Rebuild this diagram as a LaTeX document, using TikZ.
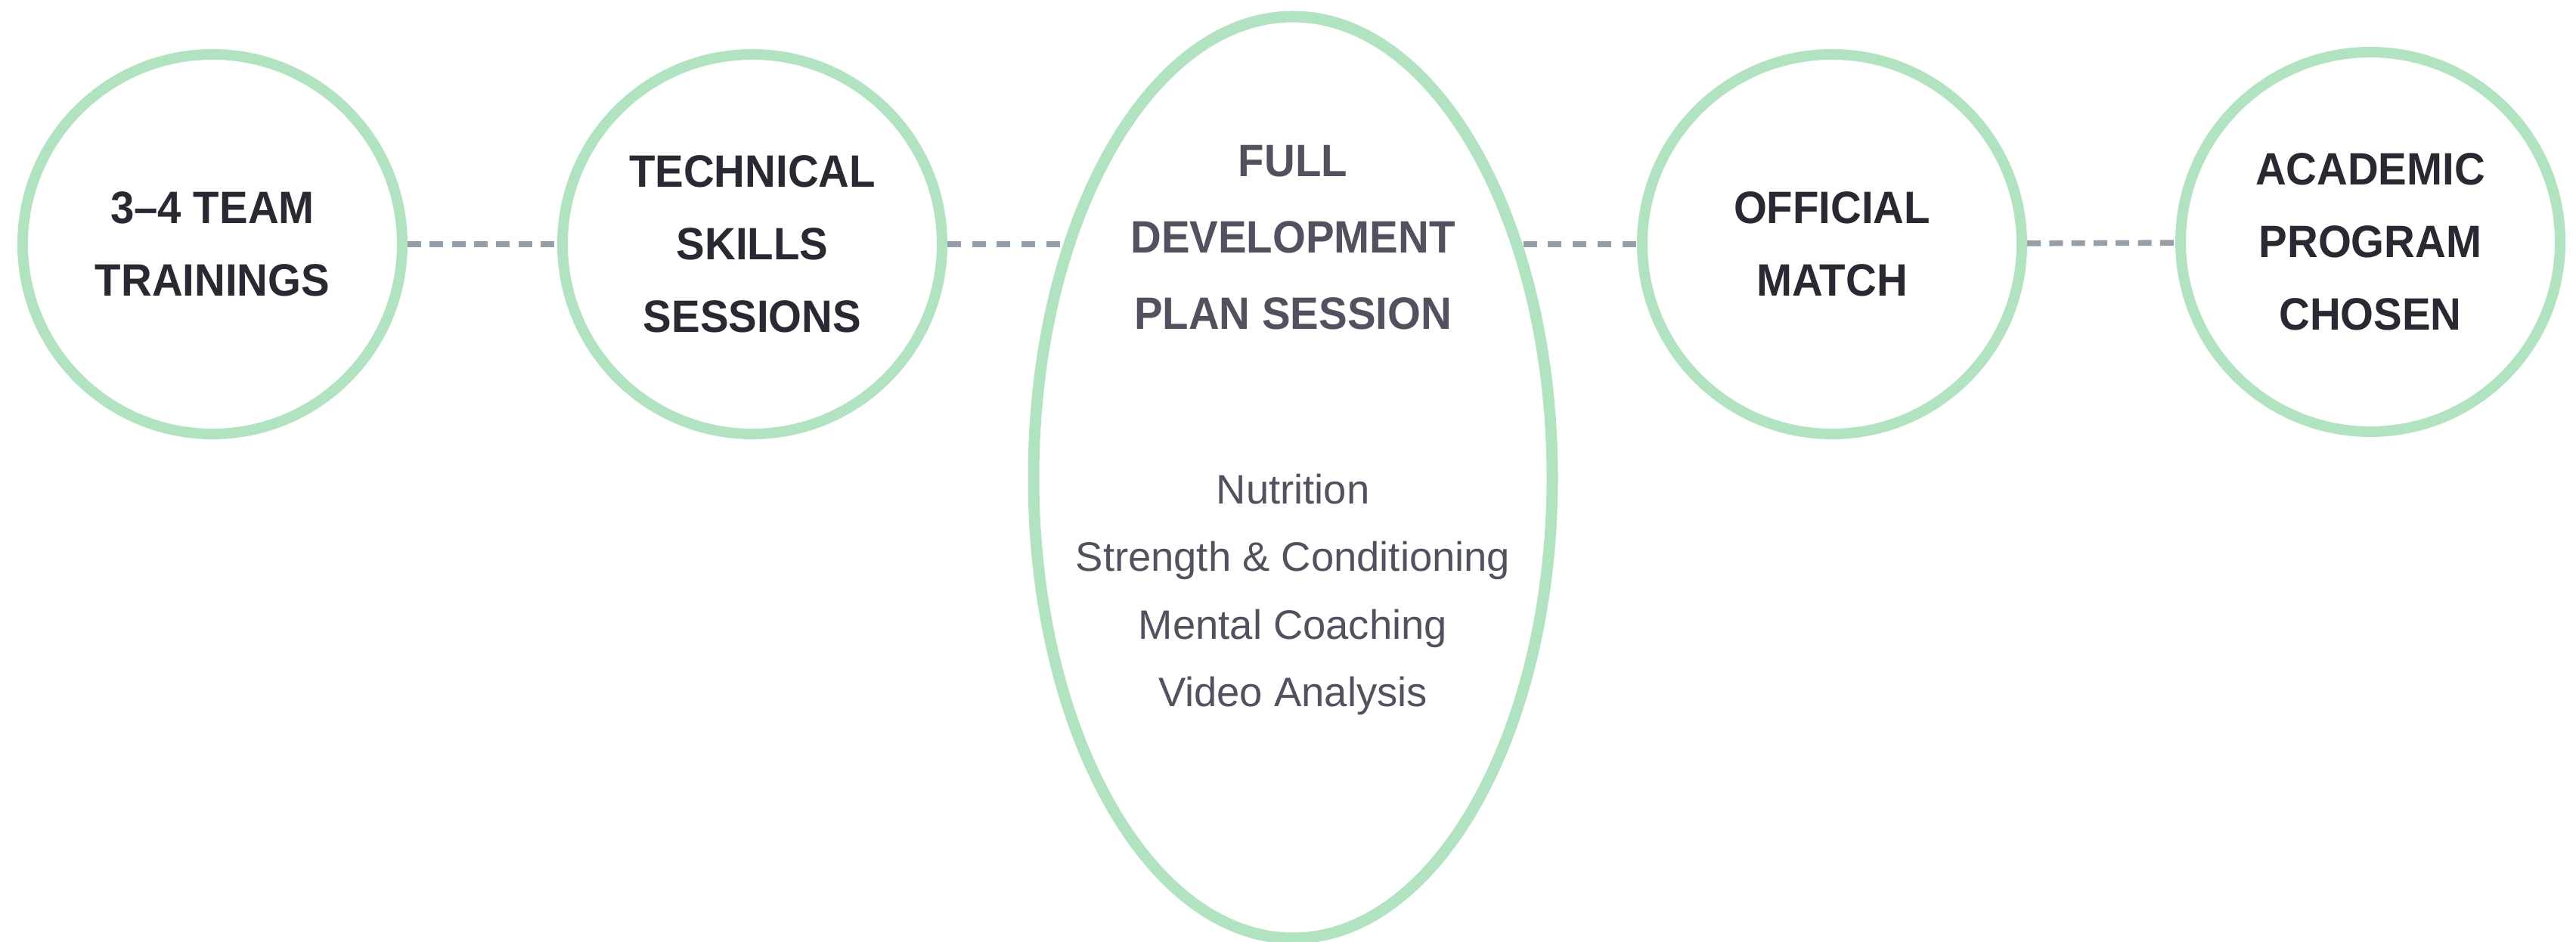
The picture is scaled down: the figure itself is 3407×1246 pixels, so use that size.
\documentclass[tikz,border=0pt]{standalone}
\usepackage{fontspec}
\setmainfont{Liberation Sans}
\newfontfamily\headfont[FakeStretch=0.94]{Liberation Sans}
\usetikzlibrary{shapes.geometric}
\definecolor{ringgreen}{HTML}{B1E3C0}
\definecolor{dashgray}{HTML}{959FAA}
\definecolor{inkdark}{HTML}{2A2933}
\definecolor{inkmid}{HTML}{52515F}
\begin{document}
\begin{tikzpicture}[x=1pt,y=1pt,
  ring/.style={circle, draw=ringgreen, line width=14pt, minimum size=502pt,
    inner sep=0pt, text=inkdark, align=center,
    font=\headfont\bfseries\fontsize{60}{96}\selectfont},
  bigring/.style={ellipse, draw=ringgreen, line width=15pt, minimum width=686pt,
    minimum height=1219pt, inner sep=0pt},
  bigtitle/.style={text=inkmid, align=center, inner sep=0pt,
    font=\headfont\bfseries\fontsize{60}{101}\selectfont},
  itemlist/.style={text=inkmid, align=center, inner sep=0pt,
    font=\fontsize{54.4}{89.5}\selectfont},
  conn/.style={draw=dashgray, line width=7.5pt, dash pattern=on 18pt off 11.3pt},
  connwide/.style={draw=dashgray, line width=7.5pt, dash pattern=on 18pt off 14.7pt}
]
\fill[white] (0,0) rectangle (3407,1246);
\useasboundingbox (0,0) rectangle (3407,1246);

\node[ring] (c1) at (281,923) {3–4 TEAM\\TRAININGS};
\node[ring] (c2) at (995,923) {TECHNICAL\\SKILLS\\SESSIONS};
\node[bigring] (ell) at (1710,614.5) {};
\node[ring] (c4) at (2423,923) {OFFICIAL\\MATCH};
\node[ring] (c5) at (3135,926) {ACADEMIC\\PROGRAM\\CHOSEN};

\node[bigtitle] (ttl) at (1710,932) {FULL\\DEVELOPMENT\\PLAN SESSION};
\node[itemlist] (lst) at (1710,459.5) {Nutrition\\Strength \& Conditioning\\Mental Coaching\\Video Analysis};

\draw[conn] (c1) -- (c2);
\draw[connwide] (c2.east) -- (c2.east -| ell.134.53);
\draw[connwide] (c4.west -| ell.45.47) -- (c4.west);
\draw[conn] (c4) -- (c5);
\end{tikzpicture}
\end{document}
